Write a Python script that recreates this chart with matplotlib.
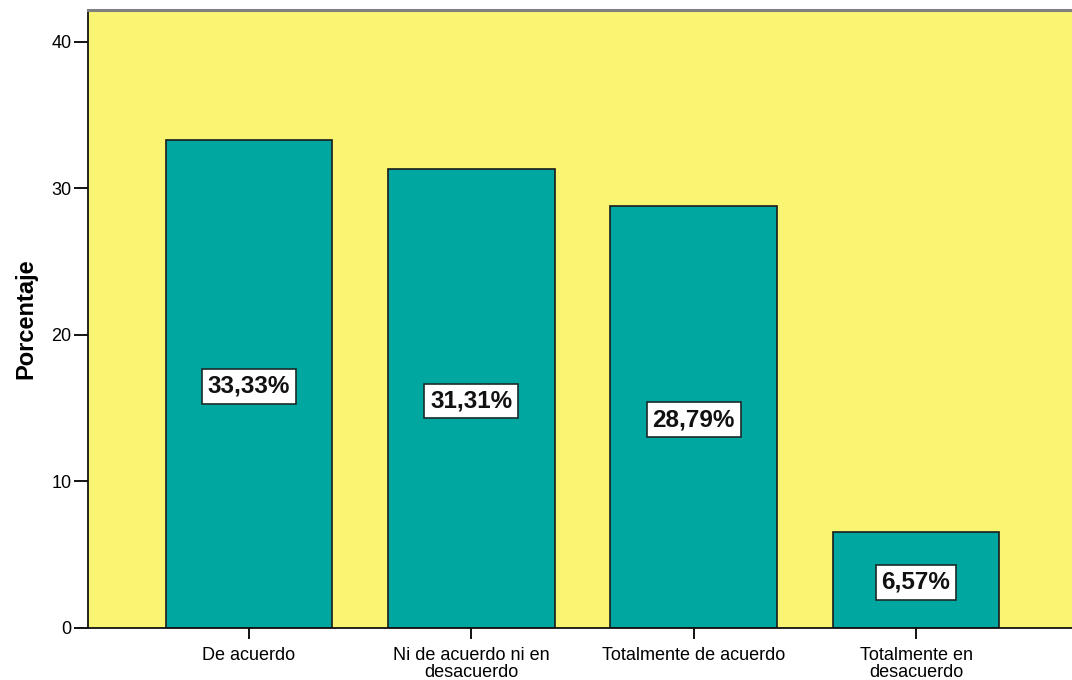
import matplotlib
matplotlib.use("Agg")
import matplotlib.pyplot as plt

categories = ["De acuerdo", "Ni de acuerdo ni en\ndesacuerdo",
              "Totalmente de acuerdo", "Totalmente en\ndesacuerdo"]
percentages = [33.33, 31.31, 28.79, 6.57]
value_labels = ["33,33%", "31,31%", "28,79%", "6,57%"]
y_ticks = [0, 10, 20, 30, 40]

plt.rcParams["font.family"] = ["Liberation Sans", "DejaVu Sans"]

fig = plt.figure(figsize=(10.72, 6.8), dpi=100)
ax = fig.add_axes([88 / 1072, 52 / 680, 989 / 1072, 618 / 680])
ax.set_facecolor("#F9F573")

x = list(range(len(categories)))
bars = ax.bar(x, percentages, width=0.75, color="#00A6A0",
              edgecolor="#1a1a1a", linewidth=1.2, zorder=2)

for xi, val, lab in zip(x, percentages, value_labels):
    ax.text(xi, val / 2, lab, ha="center", va="center_baseline",
            fontsize=17.5, fontweight="bold", color="#111111", zorder=3,
            bbox=dict(boxstyle="square,pad=0.24", facecolor="white",
                      edgecolor="#1a2a2a", linewidth=1.2))

ax.set_xlim(-0.724, 3.724)
ax.set_ylim(0, 42.18)
ax.set_yticks(y_ticks)
ax.set_xticks(x)
ax.set_xticklabels(categories, fontsize=13, linespacing=1.0)
ax.tick_params(axis="y", labelsize=13, length=10, width=1.3, pad=2,
               direction="out")
ax.tick_params(axis="x", length=8, width=1.3, pad=6, direction="out")

ax.set_ylabel("Porcentaje", fontsize=17, fontweight="bold", labelpad=10)

for side in ("left", "bottom"):
    ax.spines[side].set_color("#111111")
    ax.spines[side].set_linewidth(1.3)
ax.spines["top"].set_color("#808080")
ax.spines["top"].set_linewidth(2.2)
ax.spines["right"].set_visible(False)

fig.savefig("out.png", dpi=100)
